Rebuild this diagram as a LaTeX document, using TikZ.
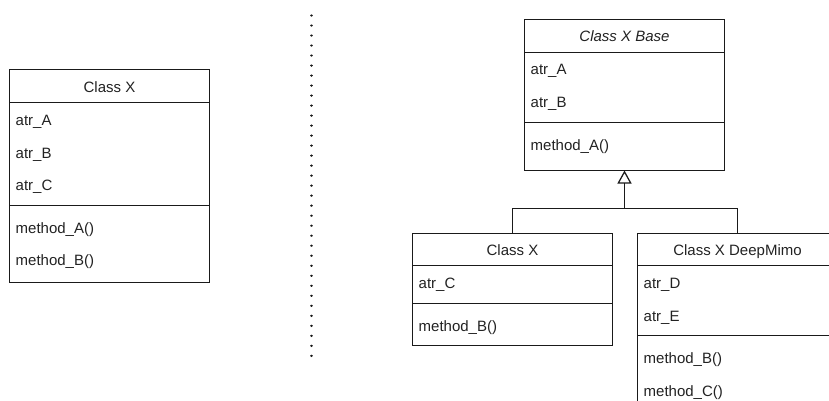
\documentclass[tikz,border=0pt]{standalone}
\usepackage{fontspec}
\setmainfont{Liberation Sans}
\usetikzlibrary{arrows.meta}
\definecolor{ln}{HTML}{1A1A1A}
\definecolor{tx}{HTML}{222222}
\begin{document}
\begin{tikzpicture}[x=1pt,y=-1pt,
  classbox/.style={draw=ln, line width=1.25pt, minimum width=200pt, anchor=north west, inner sep=0pt, outer sep=0pt},
  sepline/.style={draw=ln, line width=1.25pt},
  conn/.style={draw=ln, line width=1.25pt},
  hdr/.style={anchor=base, inner sep=0pt, text=tx, font=\fontsize{15pt}{18pt}\selectfont},
  item/.style={anchor=base west, inner sep=0pt, text=tx, xshift=6pt, font=\fontsize{15pt}{18pt}\selectfont},
  dotline/.style={draw=ln, line width=2.4pt, line cap=round, dash pattern=on 0.01pt off 10pt}]
\useasboundingbox (0,0) rectangle (829,401);
\clip (0,0) rectangle (829,401);

% left class
\node[classbox, minimum height=213pt] (L) at (9.5,69.5) {};
\draw[sepline] (L.west |- 0,102.5) -- (L.east |- 0,102.5);
\draw[sepline] (L.west |- 0,205.5) -- (L.east |- 0,205.5);
\node[hdr] (Lh) at (L.north |- 0,92.3) {Class X};
\node[item] (La) at (L.west |- 0,125.7) {atr\_A};
\node[item] (Lb) at (L.west |- 0,158.2) {atr\_B};
\node[item] (Lc) at (L.west |- 0,190.7) {atr\_C};
\node[item] (Lm1) at (L.west |- 0,233.2) {method\_A()};
\node[item] (Lm2) at (L.west |- 0,265.7) {method\_B()};

% dotted divider
\coordinate (d1) at (311.5,15.5);
\coordinate (d2) at (311.5,358);
\draw[dotline] (d1) -- (d2);

% base class
\node[classbox, minimum height=151pt] (B) at (524.5,19.5) {};
\draw[sepline] (B.west |- 0,52.5) -- (B.east |- 0,52.5);
\draw[sepline] (B.west |- 0,122.5) -- (B.east |- 0,122.5);
\node[hdr, font=\fontsize{15pt}{18pt}\selectfont\itshape] (Bh) at (B.north |- 0,41.6) {Class X Base};
\node[item] (Ba) at (B.west |- 0,75) {atr\_A};
\node[item] (Bb) at (B.west |- 0,107.5) {atr\_B};
\node[item] (Bm) at (B.west |- 0,150) {method\_A()};

% class X (derived)
\node[classbox, minimum height=112pt] (C) at (412.5,233.5) {};
\draw[sepline] (C.west |- 0,265.5) -- (C.east |- 0,265.5);
\draw[sepline] (C.west |- 0,303.5) -- (C.east |- 0,303.5);
\node[hdr] (Ch) at (C.north |- 0,255.3) {Class X};
\node[item] (Ca) at (C.west |- 0,288.7) {atr\_C};
\node[item] (Cm) at (C.west |- 0,331.7) {method\_B()};

% class X DeepMimo
\node[classbox, minimum height=200pt] (D) at (637.5,233.5) {};
\draw[sepline] (D.west |- 0,265.5) -- (D.east |- 0,265.5);
\draw[sepline] (D.west |- 0,335.5) -- (D.east |- 0,335.5);
\node[hdr] (Dh) at (D.north |- 0,255.3) {Class X DeepMimo};
\node[item] (Da) at (D.west |- 0,288.7) {atr\_D};
\node[item] (Db) at (D.west |- 0,321.2) {atr\_E};
\node[item] (Dm1) at (D.west |- 0,363.7) {method\_B()};
\node[item] (Dm2) at (D.west |- 0,396.2) {method\_C()};

% generalization
\coordinate (j) at (B.south |- 0,208.5);
\draw[conn] (C.north) |- (j);
\draw[conn] (D.north) |- (j);
\draw[conn, -{Triangle[open, length=13pt, width=14pt, line width=1.25pt]}] (j) -- (B.south);
\end{tikzpicture}
\end{document}
